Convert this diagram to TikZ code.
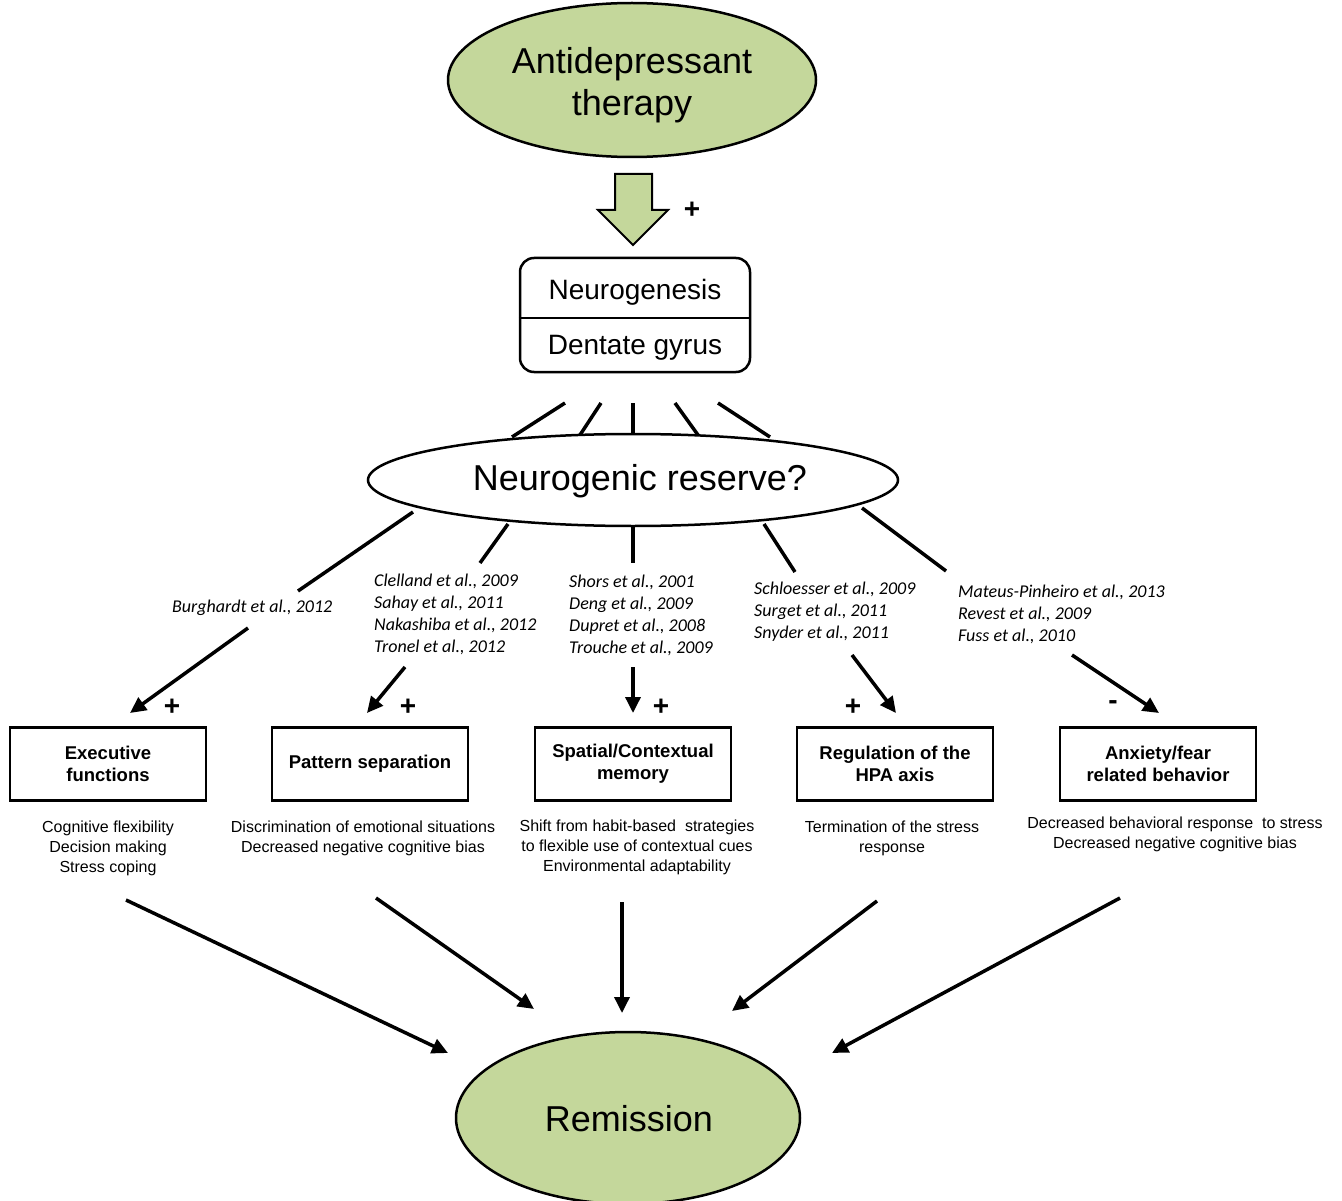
\documentclass[tikz,border=0pt]{standalone}
\usepackage{fontspec}
\setmainfont{Liberation Sans}
\newfontfamily\calib{Carlito}
\usetikzlibrary{arrows.meta,shapes.geometric}
\definecolor{lgreen}{RGB}{196,215,155}
\begin{document}
\begin{tikzpicture}[x=1pt,y=-1pt,
  fan/.style={line width=3.5pt},
  arr/.style={line width=3.5pt,-{Triangle[length=16pt,width=15pt]}},
  boxn/.style={draw,line width=2.8pt,minimum width=196pt,minimum height=73pt,inner sep=0pt,font=\bfseries\fontsize{18.5}{22}\selectfont,align=center},
  desc/.style={font=\fontsize{16}{20}\selectfont,align=center,inner sep=0pt},
  cit/.style={font=\calib\itshape\fontsize{18}{22}\selectfont,align=left,anchor=west,inner sep=0pt},
  sign/.style={font=\bfseries\fontsize{28}{28}\selectfont,inner sep=0pt},
  gell/.style={ellipse,draw,line width=2.5pt,fill=lgreen,inner sep=0pt},
  big/.style={font=\fontsize{36}{42}\selectfont,align=center,inner sep=0pt}]
\useasboundingbox (0,0) rectangle (1342,1201);
% top ellipse
\node[gell,minimum width=368pt,minimum height=154pt] (adt) at (632,80) {};
\node[big] (adtt) at (632,85) {Antidepressant\\therapy};
% block arrow
\draw[line width=2pt,fill=lgreen,line join=miter] (615,174) -- (652,174) -- (652,210) -- (668,210) -- (633,245) -- (598,210) -- (615,210) -- cycle;
\node[sign] (p0) at (692,210) {+};
% neurogenesis box
\node[draw,line width=2.5pt,rounded corners=14pt,minimum width=230pt,minimum height=114pt,inner sep=0pt] (ng) at (635,315) {};
\draw[line width=2.5pt] (ng.west |- 0,318) -- (ng.east |- 0,318);
\node[font=\fontsize{28}{30}\selectfont,inner sep=0pt] (ngt) at (635,292) {Neurogenesis};
\node[font=\fontsize{28}{30}\selectfont,inner sep=0pt] (dgt) at (635,348) {Dentate gyrus};
% upper fan
\coordinate (u1a) at (565,403); \coordinate (u1b) at (512,437);
\coordinate (u2a) at (601,403); \coordinate (u2b) at (580,435);
\coordinate (u3a) at (633,403); \coordinate (u3b) at (633,434);
\coordinate (u4a) at (675,403); \coordinate (u4b) at (698,435);
\coordinate (u5a) at (718,403); \coordinate (u5b) at (770,437);
\foreach \i in {1,...,5} {\draw[fan] (u\i a) -- (u\i b);}
% reserve ellipse
\node[ellipse,draw,line width=2.5pt,fill=white,minimum width=530pt,minimum height=92pt,inner sep=0pt] (nr) at (633,480) {};
\node[big] (nrt) at (640,481) {Neurogenic reserve?};
% lower fan
\coordinate (l1a) at (413,512); \coordinate (l1b) at (298,591);
\coordinate (l2a) at (508,524); \coordinate (l2b) at (480,563);
\coordinate (l3a) at (633,527); \coordinate (l3b) at (633,563);
\coordinate (l4a) at (764,524); \coordinate (l4b) at (795,572);
\coordinate (l5a) at (862,508); \coordinate (l5b) at (946,571);
\foreach \i in {1,...,5} {\draw[fan] (l\i a) -- (l\i b);}
% citations
\node[cit] (c1) at (172,608) {Burghardt et al., 2012};
\node[cit] (c2) at (374,614) {Clelland et al., 2009\\Sahay et al., 2011\\Nakashiba et al., 2012\\Tronel et al., 2012};
\node[cit] (c3) at (569,615) {Shors et al., 2001\\Deng et al., 2009\\Dupret et al., 2008\\Trouche et al., 2009};
\node[cit] (c4) at (754,612) {Schloesser et al., 2009\\Surget et al., 2011\\Snyder et al., 2011};
\node[cit] (c5) at (958,614) {Mateus-Pinheiro et al., 2013\\Revest et al., 2009\\Fuss et al., 2010};
% arrows to boxes
\coordinate (a1a) at (248,628); \coordinate (a1b) at (130,713);
\coordinate (a2a) at (405,667); \coordinate (a2b) at (367,713);
\coordinate (a3a) at (633,667); \coordinate (a3b) at (633,713);
\coordinate (a4a) at (852,655); \coordinate (a4b) at (896,713);
\coordinate (a5a) at (1072,655); \coordinate (a5b) at (1159,713);
\foreach \i in {1,...,5} {\draw[arr] (a\i a) -- (a\i b);}
\node[sign] (s1) at (172,707) {+};
\node[sign] (s2) at (408,707) {+};
\node[sign] (s3) at (661,707) {+};
\node[sign] (s4) at (853,707) {+};
\node[sign] (s5) at (1113,705) {-};
% boxes
\node[boxn] (b1) at (108,764) {Executive\\functions};
\node[boxn] (b2) at (370,764) {Pattern separation};
\node[boxn] (b3) at (633,764) {Spatial/Contextual\\memory};
\node[boxn] (b4) at (895,764) {Regulation of the\\HPA axis};
\node[boxn] (b5) at (1158,764) {Anxiety/fear\\related behavior};
% descriptions
\node[desc] (d1) at (108,848) {Cognitive flexibility\\Decision making\\Stress coping};
\node[desc] (d2) at (363,838) {Discrimination of emotional situations\\Decreased negative cognitive bias};
\node[desc] (d3) at (637,847) {Shift from habit-based\ \ strategies\\to flexible use of contextual cues\\Environmental adaptability};
\node[desc] (d4) at (892,838) {Termination of the stress\\response};
\node[desc] (d5) at (1175,834) {Decreased behavioral response\ \ to stress\\Decreased negative cognitive bias};
% remission
\node[gell,minimum width=344pt,minimum height=172pt] (rem) at (628,1118) {};
\node[big] (remt) at (629,1119) {Remission};
\coordinate (r1a) at (126,900); \coordinate (r1b) at (448,1053);
\coordinate (r2a) at (376,898); \coordinate (r2b) at (534,1009);
\coordinate (r3a) at (622,902); \coordinate (r3b) at (622,1013);
\coordinate (r4a) at (877,901); \coordinate (r4b) at (732,1011);
\coordinate (r5a) at (1120,898); \coordinate (r5b) at (832,1053);
\foreach \i in {1,...,5} {\draw[arr] (r\i a) -- (r\i b);}
\end{tikzpicture}
\end{document}
